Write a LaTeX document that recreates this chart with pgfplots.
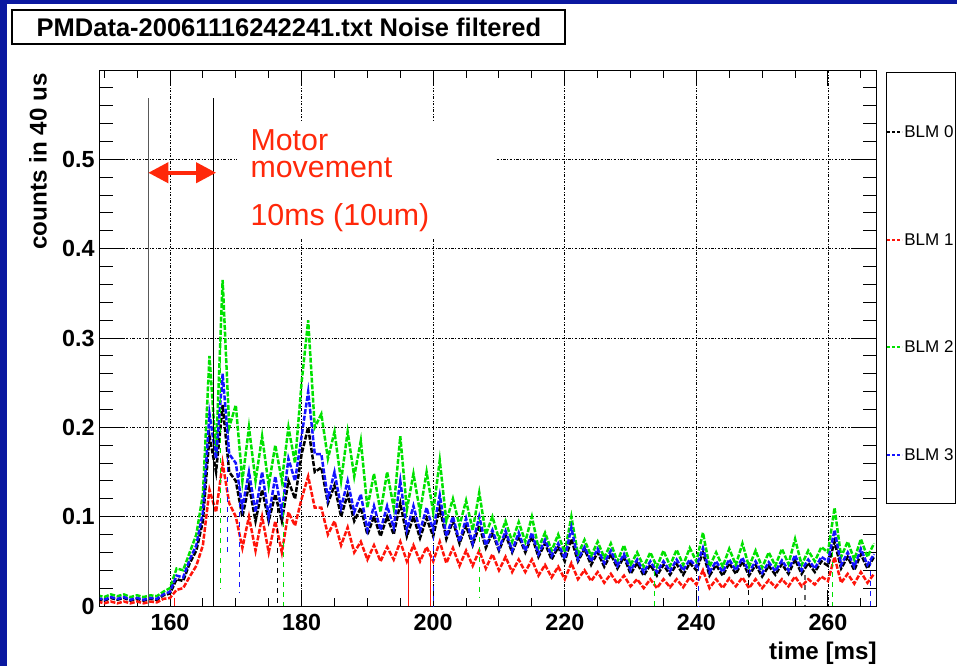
\documentclass[border=0pt]{standalone}
\usepackage{fontspec}
\setmainfont{Liberation Sans}
\usepackage{pgfplots}
\pgfplotsset{compat=1.18}
\usepackage{pgfplotstable}
\usetikzlibrary{arrows.meta}

\definecolor{rootblue}{RGB}{10,24,160}
\definecolor{motorred}{RGB}{255,40,10}
\definecolor{blmgreen}{RGB}{0,225,0}
\definecolor{blmblue}{RGB}{20,20,255}
\definecolor{blmred}{RGB}{255,20,10}

% time [ms], BLM 0..3 (counts in 40 us)
\pgfplotstableread{
t   b0    b1    b2    b3
149 0.008 0.005 0.012 0.009
150 0.006 0.003 0.010 0.007
151 0.009 0.005 0.013 0.010
152 0.007 0.003 0.011 0.008
153 0.009 0.005 0.013 0.010
154 0.006 0.003 0.010 0.007
155 0.008 0.005 0.012 0.009
156 0.006 0.003 0.010 0.007
157 0.008 0.005 0.012 0.009
158 0.007 0.004 0.011 0.008
159 0.012 0.008 0.016 0.013
160 0.014 0.009 0.020 0.016
161 0.030 0.018 0.042 0.034
162 0.028 0.020 0.040 0.032
163 0.048 0.033 0.060 0.052
164 0.062 0.045 0.080 0.068
165 0.095 0.068 0.125 0.105
166 0.190 0.130 0.280 0.215
167 0.150 0.105 0.170 0.165
168 0.225 0.160 0.365 0.260
169 0.150 0.115 0.200 0.170
170 0.140 0.100 0.225 0.160
171 0.100 0.065 0.140 0.110
172 0.135 0.100 0.200 0.150
173 0.095 0.062 0.140 0.105
174 0.130 0.100 0.190 0.150
175 0.095 0.060 0.135 0.100
176 0.125 0.095 0.180 0.145
177 0.095 0.060 0.140 0.105
178 0.140 0.105 0.200 0.165
179 0.120 0.090 0.160 0.140
180 0.170 0.120 0.250 0.190
181 0.200 0.145 0.320 0.240
182 0.150 0.110 0.200 0.170
183 0.155 0.110 0.215 0.170
184 0.115 0.080 0.165 0.120
185 0.135 0.095 0.195 0.150
186 0.100 0.068 0.140 0.110
187 0.125 0.088 0.195 0.140
188 0.095 0.060 0.145 0.105
189 0.110 0.072 0.185 0.125
190 0.080 0.052 0.110 0.085
191 0.100 0.068 0.148 0.112
192 0.078 0.050 0.105 0.085
193 0.100 0.066 0.150 0.112
194 0.080 0.052 0.110 0.088
195 0.115 0.072 0.190 0.140
196 0.078 0.050 0.108 0.085
197 0.100 0.068 0.148 0.112
198 0.076 0.050 0.105 0.084
199 0.098 0.066 0.150 0.110
200 0.078 0.050 0.105 0.085
201 0.110 0.072 0.163 0.124
202 0.075 0.048 0.095 0.078
203 0.095 0.065 0.120 0.100
204 0.070 0.045 0.090 0.072
205 0.090 0.062 0.118 0.098
206 0.068 0.045 0.085 0.070
207 0.090 0.062 0.127 0.100
208 0.065 0.042 0.080 0.068
209 0.082 0.058 0.100 0.085
210 0.062 0.040 0.075 0.064
211 0.080 0.055 0.095 0.084
212 0.060 0.038 0.072 0.062
213 0.078 0.052 0.094 0.082
214 0.060 0.038 0.072 0.062
215 0.078 0.052 0.100 0.082
216 0.055 0.034 0.065 0.058
217 0.070 0.046 0.082 0.074
218 0.052 0.032 0.062 0.056
219 0.066 0.044 0.080 0.070
220 0.050 0.030 0.060 0.053
221 0.075 0.048 0.100 0.088
222 0.050 0.030 0.058 0.052
223 0.064 0.040 0.074 0.066
224 0.046 0.028 0.056 0.050
225 0.060 0.038 0.072 0.064
226 0.044 0.026 0.054 0.048
227 0.058 0.036 0.070 0.062
228 0.042 0.025 0.050 0.045
229 0.055 0.034 0.068 0.058
230 0.036 0.022 0.046 0.040
231 0.048 0.030 0.060 0.052
232 0.034 0.020 0.044 0.038
233 0.046 0.030 0.060 0.050
234 0.034 0.020 0.044 0.038
235 0.046 0.030 0.062 0.050
236 0.035 0.021 0.045 0.039
237 0.047 0.030 0.063 0.052
238 0.035 0.021 0.046 0.040
239 0.048 0.032 0.065 0.052
240 0.040 0.024 0.050 0.044
241 0.060 0.040 0.082 0.065
242 0.034 0.020 0.044 0.038
243 0.046 0.030 0.060 0.050
244 0.034 0.020 0.044 0.038
245 0.048 0.031 0.064 0.052
246 0.036 0.022 0.046 0.040
247 0.050 0.032 0.070 0.054
248 0.034 0.020 0.044 0.038
249 0.046 0.030 0.062 0.050
250 0.033 0.020 0.043 0.037
251 0.045 0.029 0.060 0.049
252 0.035 0.021 0.045 0.039
253 0.047 0.030 0.064 0.051
254 0.036 0.022 0.047 0.040
255 0.052 0.033 0.075 0.057
256 0.036 0.022 0.046 0.040
257 0.048 0.030 0.062 0.052
258 0.038 0.024 0.050 0.042
259 0.050 0.033 0.066 0.055
260 0.045 0.028 0.060 0.050
261 0.072 0.055 0.110 0.085
262 0.042 0.026 0.055 0.046
263 0.055 0.036 0.072 0.060
264 0.040 0.025 0.052 0.044
265 0.058 0.038 0.075 0.064
266 0.042 0.026 0.055 0.046
267 0.055 0.036 0.070 0.058
}\blmdata

\begin{document}
\begin{tikzpicture}[x=0.6pt,y=0.6pt]
\useasboundingbox (0,0) rectangle (957,666);
\fill[rootblue] (0,0) rectangle (957,666);
\fill[white] (7,0) rectangle (957,662);

% title box
\draw[line width=0.8pt] (12,622) rectangle (565,656);
\node[font=\fontsize{15.3}{18}\selectfont\bfseries] at (289,639) {PMData-20061116242241.txt Noise filtered};

\begin{axis}[
  at={(60pt,36pt)}, anchor=south west,
  scale only axis, width=465.6pt, height=321.6pt,
  xmin=149.36, xmax=267.3, ymin=0, ymax=0.6,
  axis line style={line width=0.6pt},
  xtick={160,180,200,220,240,260},
  minor xtick={150,155,165,170,175,185,190,195,205,210,215,225,230,235,245,250,255,265},
  ytick={0,0.1,0.2,0.3,0.4,0.5,0.6},
  yticklabels={0,0.1,0.2,0.3,0.4,0.5,{}},
  xticklabels={160,180,200,220,240,260},
  minor ytick={0.02,0.04,0.06,0.08,0.12,0.14,0.16,0.18,0.22,0.24,0.26,0.28,0.32,0.34,0.36,0.38,0.42,0.44,0.46,0.48,0.52,0.54,0.56,0.58},
  xtick style={black, line width=0.6pt, /pgfplots/major tick length=9.6pt, /pgfplots/minor tick length=4.8pt},
  ytick style={black, line width=0.6pt, /pgfplots/major tick length=15pt, /pgfplots/minor tick length=7.5pt},
  grid=major,
  grid style={black, line width=0.5pt, dash pattern=on 1.5pt off 1pt on 0.4pt off 1pt},
  /pgf/number format/assume math mode=true,
  ticklabel style={font=\fontsize{14}{16}\selectfont\bfseries},
  yticklabel style={inner sep=0pt, xshift=-3pt},
  xticklabel style={inner sep=0pt, yshift=-4.5pt},
  xlabel={time [ms]},
  ylabel={counts in 40 us},
  label style={font=\fontsize{14.5}{17}\selectfont\bfseries, inner sep=0pt},
  xlabel style={at={(axis description cs:1.0013,-0.1)}, anchor=base east},
  ylabel style={at={(axis description cs:-0.08,0.994)}, anchor=east},
  clip=true,
]
% blank area behind the annotation
\fill[white] (axis cs:170.2,0.543) rectangle (axis cs:209.4,0.412);

\addplot[black, line width=1.5pt, dash pattern=on 3pt off 1pt] table[x=t,y=b0] {\blmdata};
\addplot[blmred, line width=1.5pt, dash pattern=on 3pt off 1pt] table[x=t,y=b1] {\blmdata};
\addplot[blmgreen, line width=1.5pt, dash pattern=on 3pt off 1pt] table[x=t,y=b2] {\blmdata};
\addplot[blmblue, line width=1.5pt, dash pattern=on 3pt off 1pt] table[x=t,y=b3] {\blmdata};

% single-sample dropouts
\addplot[black, line width=0.7pt, dashed] coordinates {(176.4,0.11) (176.4,0.0)};
\addplot[black, line width=0.7pt, dashed] coordinates {(247.9,0.04) (247.9,0.0)};
\addplot[black!60, line width=0.7pt, dashed] coordinates {(256.5,0.035) (256.5,0.0)};
\addplot[blmred, line width=0.7pt] coordinates {(160.7,0.009) (160.7,0.0)};
\addplot[blmred, line width=0.7pt] coordinates {(196.3,0.06) (196.3,0.0)};
\addplot[blmred, line width=0.7pt] coordinates {(199.6,0.062) (199.6,0.0)};
\addplot[blmgreen, line width=0.7pt, dashed] coordinates {(167.7,0.30) (167.7,0.02)};
\addplot[blmgreen, line width=0.7pt, dashed] coordinates {(177.2,0.15) (177.2,0.0)};
\addplot[blmgreen, line width=0.7pt, dashed] coordinates {(207.1,0.10) (207.1,0.01)};
\addplot[blmgreen, line width=0.7pt, dashed] coordinates {(233.6,0.05) (233.6,0.0)};
\addplot[blmgreen, line width=0.7pt, dashed] coordinates {(260.7,0.06) (260.7,0.0)};
\addplot[blmblue, line width=0.7pt, dashed] coordinates {(168.8,0.2) (168.8,0.06)};
\addplot[blmblue, line width=0.7pt, dashed] coordinates {(170.6,0.15) (170.6,0.015)};
\addplot[blmblue, line width=0.7pt, dashed] coordinates {(200.0,0.09) (200.0,0.0)};
\addplot[blmblue, line width=0.7pt, dashed] coordinates {(240.3,0.045) (240.3,0.0)};
\addplot[blmblue, line width=0.7pt, dashed] coordinates {(266.5,0.05) (266.5,0.0)};

% motor movement window
\draw[black!65, line width=0.6pt] (axis cs:156.7,0) -- (axis cs:156.7,0.569);
\draw[black, line width=0.6pt] (axis cs:166.58,0) -- (axis cs:166.58,0.569);
\draw[motorred, line width=2.4pt, {Triangle[length=12pt,width=12pt]}-{Triangle[length=12pt,width=12pt]}]
  (axis cs:156.7,0.485) -- (axis cs:167.0,0.485);
\node[motorred, font=\fontsize{18.2}{16.5}\selectfont, anchor=base west, inner sep=0pt, align=left] at (axis cs:172.2,0.4793) {Motor\\movement};
\node[motorred, font=\fontsize{18.2}{20}\selectfont, anchor=base west, inner sep=0pt] at (axis cs:172.2,0.4257) {10ms (10um)};
\end{axis}

% legend box
\draw[line width=0.6pt] (886,162) rectangle (955,593);
\draw[black, line width=0.7pt, dash pattern=on 2pt off 1pt] (887,534) -- (902,534);
\draw[blmred, line width=0.8pt, dash pattern=on 2pt off 1pt] (887,426) -- (902,426);
\draw[blmgreen, line width=0.8pt, dash pattern=on 2pt off 1pt] (887,319) -- (902,319);
\draw[blmblue, line width=0.8pt, dash pattern=on 2pt off 1pt] (887,211) -- (902,211);
\node[anchor=west, inner sep=0pt, font=\fontsize{10.2}{12}\selectfont] at (904,534) {BLM 0};
\node[anchor=west, inner sep=0pt, font=\fontsize{10.2}{12}\selectfont] at (904,426) {BLM 1};
\node[anchor=west, inner sep=0pt, font=\fontsize{10.2}{12}\selectfont] at (904,319) {BLM 2};
\node[anchor=west, inner sep=0pt, font=\fontsize{10.2}{12}\selectfont] at (904,211) {BLM 3};
\end{tikzpicture}
\end{document}
